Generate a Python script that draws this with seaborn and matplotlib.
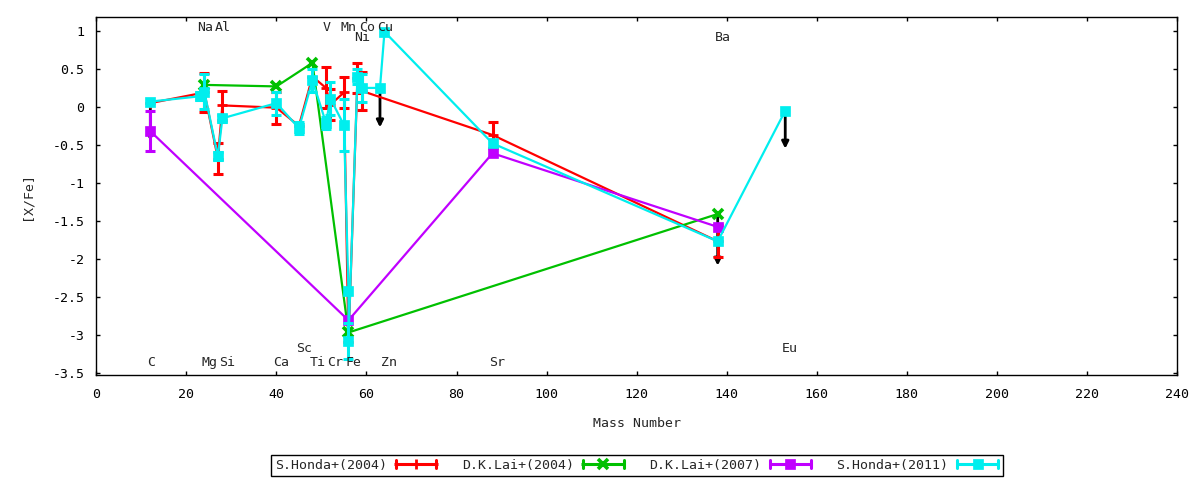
import numpy as np
import matplotlib
matplotlib.use('Agg')
import matplotlib.pyplot as plt
import seaborn as sns
from matplotlib.lines import Line2D
from matplotlib.legend_handler import HandlerBase
from matplotlib.ticker import FuncFormatter, MultipleLocator

# S.Honda+(2004)
honda04_mass = [12, 24, 27, 28, 40, 45, 48, 51, 52, 55, 56, 58, 59, 88, 138]
honda04_xfe = [0.05, 0.19, -0.68, 0.02, -0.01, -0.25, 0.40, 0.25, 0.03, 0.19, -3.10, 0.38, 0.21, -0.37, -1.77]
honda04_err = [0, 0.26, 0.20, 0.19, 0.21, 0, 0, 0.27, 0.20, 0.21, 0, 0.20, 0.25, 0.17, 0.21]

# D.K.Lai+(2004)
lai04_mass = [24, 40, 48, 56, 138]
lai04_xfe = [0.29, 0.27, 0.58, -2.97, -1.41]
lai04_err = [0, 0, 0, 0, 0]

# D.K.Lai+(2007)
lai07_mass = [12, 56, 88, 138]
lai07_xfe = [-0.32, -2.81, -0.61, -1.58]
lai07_err = [0.26, 0, 0, 0]

# S.Honda+(2011)
honda11_mass = [12, 23, 24, 27, 28, 40, 45, 48, 51, 52, 55, 56, 56, 58, 59, 63, 64, 88, 138, 153]
honda11_xfe = [0.07, 0.14, 0.20, -0.65, -0.15, 0.05, -0.28, 0.35, -0.21, 0.11, -0.24, -2.43, -3.08,
               0.40, 0.25, 0.25, 0.99, -0.48, -1.77, -0.05]
honda11_err = [0, 0.05, 0.23, 0.05, 0.05, 0.15, 0.08, 0.15, 0.08, 0.22, 0.34, 0, 0.24,
               0.10, 0.18, 0, 0, 0, 0, 0]

# upper limits (black arrows)
ulim_mass = [12, 63, 138, 153]
ulim_from = [0.05, 0.25, -1.42, -0.05]
ulim_to = [-0.45, -0.27, -2.09, -0.55]

# element names along the top / bottom
elem_names = ['C', 'Na', 'Mg', 'Al', 'Si', 'Ca', 'Sc', 'Ti', 'V', 'Cr', 'Mn', 'Fe',
              'Ni', 'Co', 'Cu', 'Zn', 'Sr', 'Ba', 'Eu']
elem_mass = [12, 23, 24, 27, 28, 40, 45, 48, 51, 52, 55, 56, 58, 59, 63, 64, 88, 138, 153]


class GnuplotSample(HandlerBase):
    # horizontal errorbar-like key sample: line, end caps, point in the middle
    def create_artists(self, legend, orig_handle, xdescent, ydescent, width, height, fontsize, trans):
        c = orig_handle.get_color()
        y = height / 2 - ydescent
        x0, x1 = -xdescent, width - xdescent
        arts = [Line2D([x0, x1], [y, y], color=c, lw=2.2, solid_capstyle='butt'),
                Line2D([x0 + 1, x0 + 1], [y - 3.2, y + 3.2], color=c, lw=2.2),
                Line2D([x1 - 1, x1 - 1], [y - 3.2, y + 3.2], color=c, lw=2.2),
                Line2D([(x0 + x1) / 2], [y], marker=orig_handle.get_marker(), color=c,
                       ms=orig_handle.get_markersize(), mew=orig_handle.get_markeredgewidth(),
                       mec=c, mfc=c)]
        for a in arts:
            a.set_transform(trans)
        return arts


sns.set_theme(style='ticks', rc={'axes.edgecolor': 'black', 'axes.linewidth': 1.0,
                                 'xtick.color': 'black', 'ytick.color': 'black'})
plt.rcParams['font.family'] = ['DejaVu Sans Mono']
plt.rcParams['axes.unicode_minus'] = False
FS = 9.5

fig = plt.figure(figsize=(12, 4.8), dpi=100)
ax = fig.add_axes([96.3 / 1200, 1 - 375 / 480, (1177 - 96.3) / 1200, (375 - 17.3) / 480])

series = [
    ('S.Honda+(2004)', honda04_mass, honda04_xfe, honda04_err, '#ff0000', '+', 7, 2.0),
    ('D.K.Lai+(2004)', lai04_mass, lai04_xfe, lai04_err, '#00c000', 'x', 6.5, 2.6),
    ('D.K.Lai+(2007)', lai07_mass, lai07_xfe, lai07_err, '#c000ff', 's', 7, 0.5),
    ('S.Honda+(2011)', honda11_mass, honda11_xfe, honda11_err, '#00eeee', 's', 7, 0.5),
]

# arrows sit underneath the data
for m, y0, y1 in zip(ulim_mass, ulim_from, ulim_to):
    ax.annotate('', xy=(m, y1), xytext=(m, y0), zorder=1,
                arrowprops=dict(arrowstyle='-|>', color='black', lw=2.0,
                                mutation_scale=10, shrinkA=0, shrinkB=0))

handles = []
for i, (name, mass, xfe, err, col, mk, ms, mew) in enumerate(series):
    z = 2 + i
    sns.lineplot(x=mass, y=xfe, ax=ax, estimator=None, sort=False, color=col, lw=1.6,
                 marker=mk, markersize=ms, markeredgewidth=mew, markeredgecolor=col,
                 markerfacecolor=col, zorder=z)
    m = np.array(mass, dtype=float)
    v = np.array(xfe)
    e = np.array(err)
    has = e > 0
    if has.any():
        ax.errorbar(m[has], v[has], yerr=e[has], fmt='none', ecolor=col, elinewidth=2.2,
                    capsize=3.3, capthick=2.2, zorder=z)
    handles.append(Line2D([], [], color=col, marker=mk, markersize=ms, markeredgewidth=mew))

# element labels: row 0 = top, 1 = second top, 2 = lower, 3 = bottom
label_row = [3, 0, 3, 0, 3, 3, 2, 3, 0, 3, 0, 3, 1, 0, 0, 3, 3, 1, 2]
row_y = [1.04, 0.91, -3.18, -3.37]
for name, m, r in zip(elem_names, elem_mass, label_row):
    ax.text(m - 0.7, row_y[r], name, ha='left', va='center', fontsize=FS, zorder=10)

ax.set_xlim(0, 240)
ax.set_ylim(-3.53, 1.18)
ax.xaxis.set_major_locator(MultipleLocator(20))
ax.yaxis.set_major_locator(MultipleLocator(0.5))
ax.yaxis.set_major_formatter(FuncFormatter(lambda v, p: f'{v:g}'))
ax.tick_params(direction='in', length=3, width=1, top=True, right=True, labelsize=FS)
ax.tick_params(axis='x', pad=9)
ax.tick_params(axis='y', pad=8.5)
ax.set_xlabel('Mass Number', fontsize=FS, labelpad=12)
ax.set_ylabel('[X/Fe]', fontsize=FS, labelpad=14)

leg = fig.legend(handles, [s[0] for s in series], loc='center', bbox_to_anchor=(0.531, 0.031),
                 ncol=4, markerfirst=False, handler_map={Line2D: GnuplotSample()},
                 frameon=True, fancybox=False, edgecolor='black', framealpha=1,
                 borderpad=0.3, handlelength=3.3, handletextpad=0.55, columnspacing=1.85,
                 fontsize=FS)
leg.get_frame().set_linewidth(1.0)

fig.savefig('out.png', dpi=100)
